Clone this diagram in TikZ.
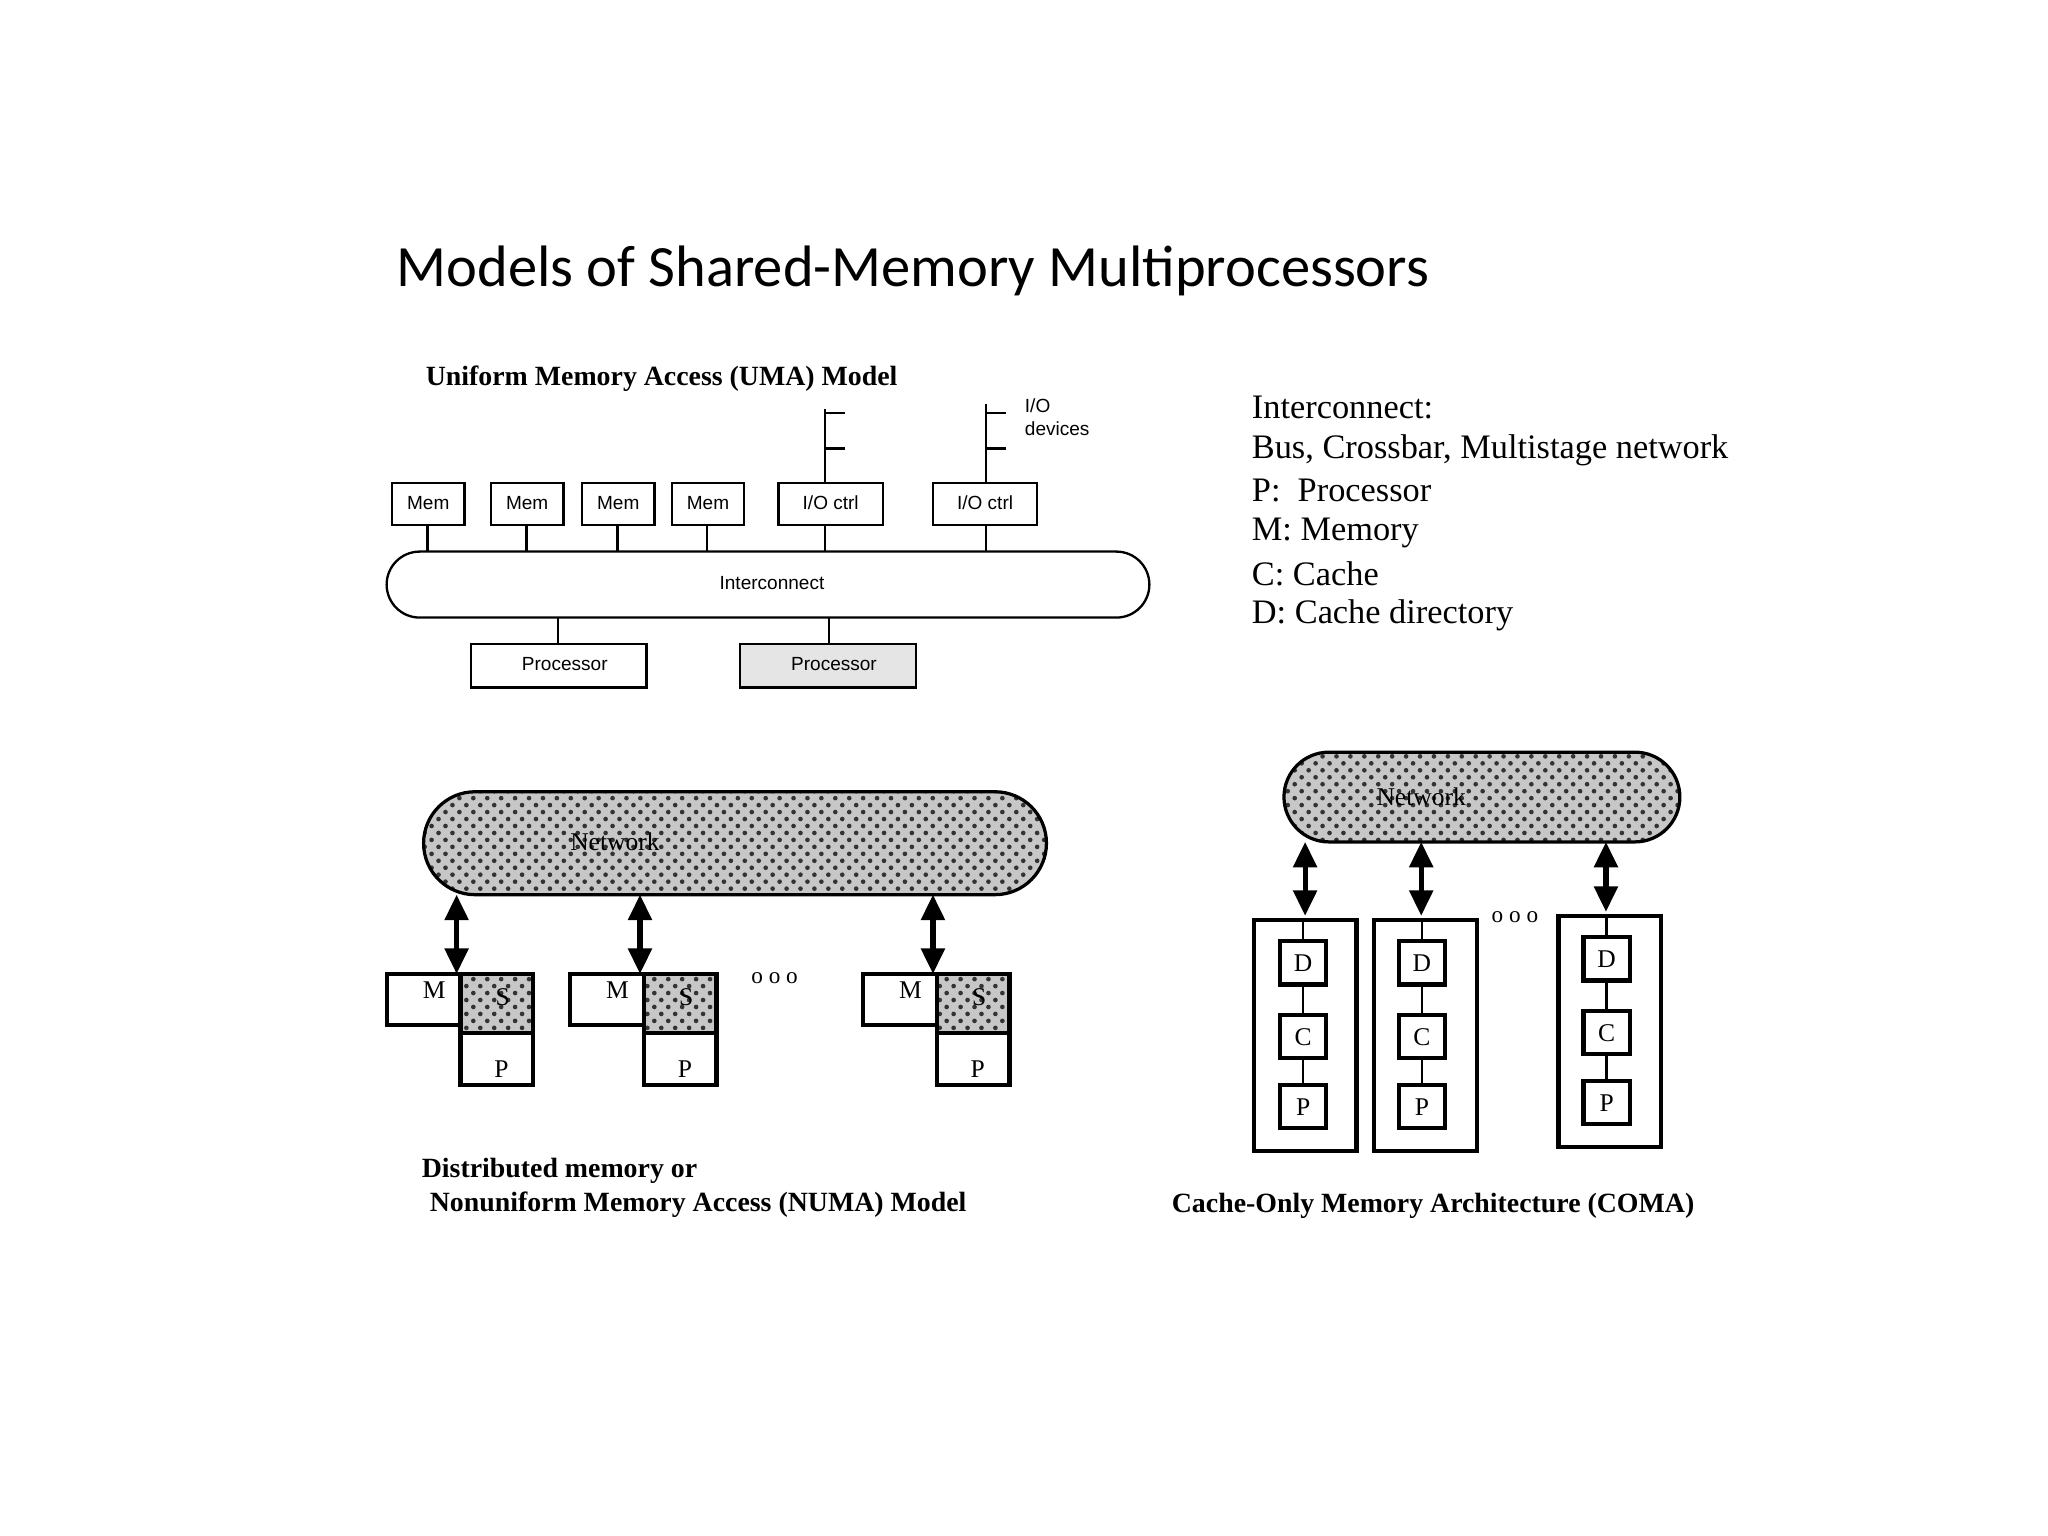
\documentclass[tikz,border=0pt]{standalone}
\usepackage{fontspec}
\setmainfont{Liberation Serif}
\newfontfamily\arial{Liberation Sans}
\newfontfamily\calibri{Carlito}
\usetikzlibrary{patterns,arrows.meta}
\begin{document}
\begin{tikzpicture}[x=0.01cm,y=-0.01cm,
  sm/.style={font=\arial\fontsize{4.1}{5}\selectfont},
  thin/.style={line width=0.5pt},
  dotted area/.style={preaction={fill=black!22},pattern=crosshatch dots,pattern color=black!80,draw,line width=0.7pt},
  darr/.style={line width=1.1pt,{Triangle[width=5pt,length=5.5pt]}-{Triangle[width=5pt,length=5.5pt]}},
  captxt/.style={font=\bfseries\fontsize{6}{7}\selectfont},
  leg/.style={font=\fontsize{7.4}{8.9}\selectfont,anchor=west,inner sep=0}]
\useasboundingbox (0,0) rectangle (1552,1164);
\node[font=\calibri\fontsize{12.6}{14}\selectfont,anchor=west,inner sep=0] (title) at (300,205) {Models of Shared-Memory Multiprocessors};
% UMA
\node[captxt,anchor=west,inner sep=0] (umacap) at (322,287) {Uniform Memory Access (UMA) Model};
\foreach \n/\a/\b/\t in {m1/297/352/Mem,m2/372/427/Mem,m3/441/496/Mem,m4/509/564/Mem,io1/590/669/{I/O ctrl},io2/707/786/{I/O ctrl}}{
  \draw[thin] (\a,366) rectangle (\b,398);
  \node[sm] (\n) at ({(\a+\b)/2},381) {\t};
}
\draw[thin,rounded corners=25*0.01cm] (293,418) rectangle (871,468);
\node[sm] (ic) at (585,442) {Interconnect};
\foreach \x in {324,399,468,536,625,747} \draw[thin] (\x,398) -- (\x,418);
\draw[thin] (357,488) rectangle (490,521);
\node[sm] (p1) at (428,503) {Processor};
\draw[thin,fill=black!10] (561,488) rectangle (694,521);
\node[sm] (p2) at (632,503) {Processor};
\draw[thin] (423,468) -- (423,488) (628,468) -- (628,488);
\draw[thin] (625,366) -- (625,310) (625,313) -- (640,313) (625,340) -- (640,340);
\draw[thin] (747,366) -- (747,306) (747,313) -- (762,313) (747,340) -- (762,340);
\node[sm,anchor=west,inner sep=0,align=left] (iod) at (776,316) {I/O\\devices};
% legend
\node[leg] (l1) at (948,309) {Interconnect:};
\node[leg] (l2) at (948,341) {Bus, Crossbar, Multistage network};
\node[leg] (l3) at (948,372) {P:\ \ Processor};
\node[leg] (l4) at (948,404) {M: Memory};
\node[leg] (l5) at (948,435) {C: Cache};
\node[leg] (l6) at (948,466) {D: Cache directory};
% NUMA
\draw[dotted area,rounded corners=39*0.01cm] (321,600) rectangle (793,678);
\node[font=\fontsize{5.5}{6}\selectfont] (net1) at (466,638) {Network};
\foreach \x/\i in {293/a,432/b,654/c}{
  \draw[line width=0.9pt] (\x,738) rectangle ({\x+56},777);
  \node[font=\fontsize{5.5}{6}\selectfont] at ({\x+36},750) {M};
  \draw[dotted area,line width=0.9pt] ({\x+56},738) rectangle ({\x+111},783);
  \node[font=\fontsize{5.5}{6}\selectfont] at ({\x+88},756) {S};
  \draw[line width=0.9pt] ({\x+56},783) rectangle ({\x+111},822);
  \node[font=\fontsize{5.5}{6}\selectfont] at ({\x+87},810) {P};
  \draw[darr] ({\x+53},678) -- ({\x+53},738);
}
\node[font=\fontsize{5}{6}\selectfont] at (587,741) {o o o};
\node[captxt,anchor=west,inner sep=0] (nc1) at (319,887) {Distributed memory or};
\node[captxt,anchor=west,inner sep=0] (nc2) at (325,913) {Nonuniform Memory Access (NUMA) Model};
% COMA
\draw[dotted area,rounded corners=34*0.01cm] (973,570) rectangle (1273,638);
\node[font=\fontsize{5.5}{6}\selectfont] (net2) at (1077,604) {Network};
\foreach \xo/\xi/\dy/\ax in {950/970/0/989,1041/1060/0/1077,1181/1200/-3/1217}{
  \draw[line width=0.9pt] (\xo,697+\dy) rectangle ({\xo+78},872+\dy);
  \draw[line width=0.9pt] (\xi,713+\dy) rectangle ({\xi+35},746+\dy);
  \draw[line width=0.9pt] (\xi,769+\dy) rectangle ({\xi+35},802+\dy);
  \draw[line width=0.9pt] (\xi,822+\dy) rectangle ({\xi+35},855+\dy);
  \node[font=\fontsize{5.5}{6}\selectfont] at ({\xi+17.5},730+\dy) {D};
  \node[font=\fontsize{5.5}{6}\selectfont] at ({\xi+17.5},786+\dy) {C};
  \node[font=\fontsize{5.5}{6}\selectfont] at ({\xi+17.5},839+\dy) {P};
  \draw[thin] ({\xi+17.5},746+\dy) -- ({\xi+17.5},769+\dy) ({\xi+17.5},802+\dy) -- ({\xi+17.5},822+\dy) ({\xi+17.5},697+\dy) -- ({\xi+17.5},713+\dy);
  \draw[darr] (\ax,638) -- (\ax,694+\dy);
}
\node[font=\fontsize{5}{6}\selectfont] at (1148,695) {o o o};
\node[captxt] (cc) at (1086,914) {Cache-Only Memory Architecture (COMA)};
\end{tikzpicture}
\end{document}
